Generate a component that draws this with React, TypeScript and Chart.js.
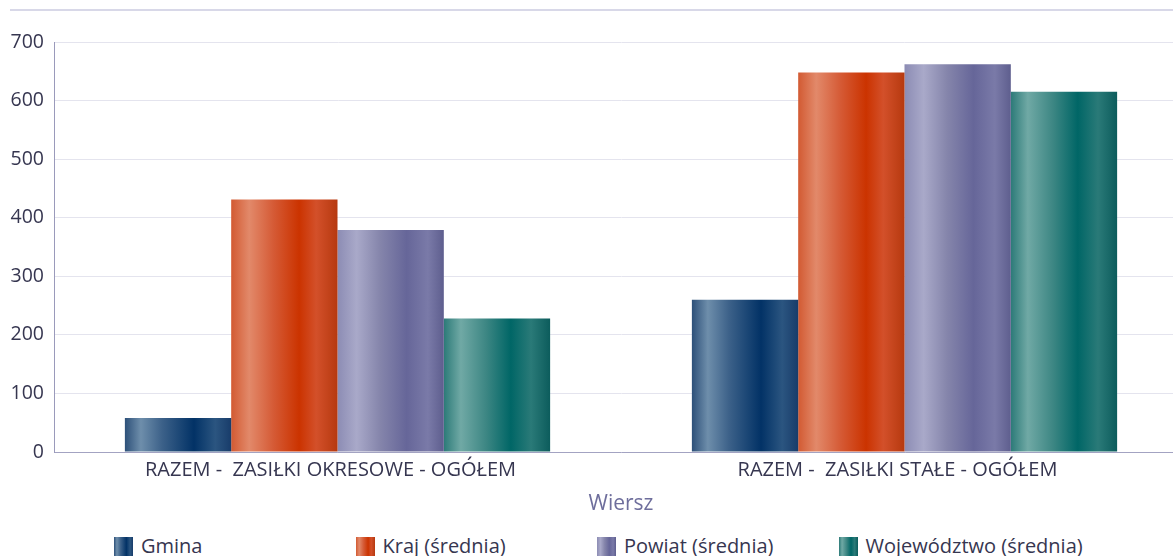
import React, { useEffect, useRef } from "react";
import { Chart, registerables } from "chart.js";

Chart.register(...registerables);

// ---- data ----
const categories = ["RAZEM -  ZASIŁKI OKRESOWE - OGÓŁEM", "RAZEM -  ZASIŁKI STAŁE - OGÓŁEM"];
const seriesNames = ["Gmina", "Kraj (średnia)", "Powiat (średnia)", "Województwo (średnia)"];
const gminaValues = [58, 260];
const krajValues = [431, 648];
const powiatValues = [379, 662];
const wojewodztwoValues = [228, 615];
const yMin = 0;
const yMax = 700;
const yStep = 100;
const xAxisTitle = "Wiersz";

// ---- styles ----
type Stops = [number, string][];
const gradientStops: Stops[] = [
  [[0, "#2d5079"], [0.15, "#6e8eab"], [0.35, "#3c6189"], [0.65, "#023266"], [0.85, "#2b5580"], [1, "#183c6a"]],
  [[0, "#d25a32"], [0.17, "#e2896a"], [0.4, "#d55a35"], [0.64, "#cb3300"], [0.8, "#d3502a"], [1, "#b6390f"]],
  [[0, "#8c8cb4"], [0.18, "#a9a9c9"], [0.4, "#8585ab"], [0.65, "#666699"], [0.85, "#7a7aa8"], [1, "#5e5e8e"]],
  [[0, "#2c7a78"], [0.16, "#70a9a5"], [0.4, "#3c8683"], [0.63, "#006666"], [0.82, "#2a7a78"], [1, "#0c5c5c"]],
];
const baseColors = ["#023266", "#cb3300", "#666699", "#006666"];
const legendLefts = [114, 355.5, 597, 838.5];
const FONT = "'Open Sans', 'Noto Sans', sans-serif";

const gradientPlugin = {
  id: "barGradients",
  beforeDatasetsDraw(chart: any) {
    const ctx = chart.ctx as CanvasRenderingContext2D;
    chart.data.datasets.forEach((_ds: any, di: number) => {
      const meta = chart.getDatasetMeta(di);
      meta.data.forEach((el: any) => {
        const x0 = el.x - el.width / 2;
        const x1 = el.x + el.width / 2;
        const g = ctx.createLinearGradient(x0, 0, x1, 0);
        gradientStops[di].forEach(([o, c]) => g.addColorStop(o, c));
        el.options = Object.assign({}, el.options, { backgroundColor: g });
      });
    });
  },
};

const cssGradient = (stops: Stops) =>
  `linear-gradient(to right, ${stops.map(([o, c]) => `${c} ${o * 100}%`).join(", ")})`;

export default function App() {
  const canvasRef = useRef<HTMLCanvasElement | null>(null);

  useEffect(() => {
    const canvas = canvasRef.current;
    if (!canvas) return;
    const seriesValues = [gminaValues, krajValues, powiatValues, wojewodztwoValues];
    const chart = new Chart(canvas, {
      type: "bar",
      data: {
        labels: categories,
        datasets: seriesNames.map((name, i) => ({
          label: name,
          data: seriesValues[i],
          backgroundColor: baseColors[i],
          borderWidth: 0,
          categoryPercentage: 0.75,
          barPercentage: 1,
        })),
      },
      options: {
        responsive: false,
        animation: false,
        layout: { padding: { top: 42, left: 0, right: 0, bottom: 0 } },
        plugins: {
          legend: { display: false },
          tooltip: { enabled: false },
        },
        scales: {
          x: {
            grid: { color: "transparent", drawTicks: false },
            border: { display: true, color: "#a3a3c2", width: 1 },
            ticks: {
              color: "#363650",
              font: { family: FONT, size: 20 },
              padding: 6,
              labelOffset: -7,
              maxRotation: 0,
              autoSkip: false,
            },
            title: {
              display: true,
              text: xAxisTitle,
              color: "#6e6e9c",
              font: { family: FONT, size: 21 },
              padding: { top: 0, bottom: 8 },
            },
            afterFit(scale: any) {
              scale.height = 73;
            },
          },
          y: {
            min: yMin,
            max: yMax,
            ticks: {
              stepSize: yStep,
              color: "#363650",
              font: { family: FONT, size: 19.5 },
              padding: 10,
            },
            grid: { color: "#e4e4ee", drawTicks: false },
            border: { display: true, color: "#9a9abb", width: 1 },
            afterFit(scale: any) {
              scale.width = 54;
            },
          },
        },
      },
      plugins: [gradientPlugin],
    });
    return () => chart.destroy();
  }, []);

  return (
    <div
      style={{
        position: "fixed",
        left: 0,
        top: 0,
        width: 1173,
        height: 556,
        overflow: "hidden",
        background: "#ffffff",
        fontFamily: FONT,
      }}
    >
      <div
        style={{
          position: "absolute",
          left: 10,
          right: 0,
          top: 9,
          height: 2,
          background: "#d8d8e8",
        }}
      />
      <canvas
        ref={canvasRef}
        width={1188}
        height={525}
        style={{ position: "absolute", left: 0, top: 0, width: 1188, height: 525 }}
      />
      {seriesNames.map((name, i) => (
        <React.Fragment key={name}>
          <div
            style={{
              position: "absolute",
              left: legendLefts[i],
              top: 536.5,
              width: 19,
              height: 19,
              background: cssGradient(gradientStops[i]),
            }}
          />
          <span
            style={{
              position: "absolute",
              left: legendLefts[i] + 27,
              top: 531.6,
              fontSize: 20,
              lineHeight: "normal",
              color: "#363650",
              whiteSpace: "pre",
            }}
          >
            {name}
          </span>
        </React.Fragment>
      ))}
    </div>
  );
}
